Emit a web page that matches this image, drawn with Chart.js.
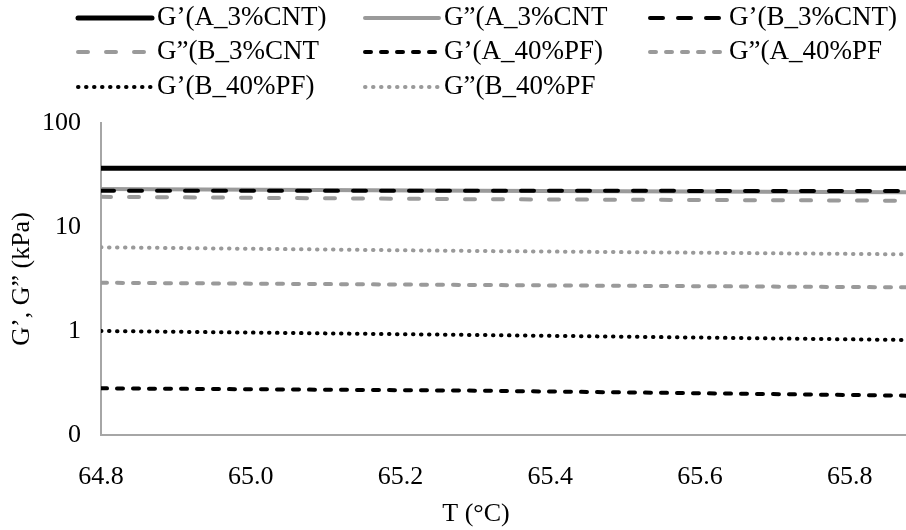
<!DOCTYPE html>
<html>
<head>
<meta charset="utf-8">
<script src="https://cdn.jsdelivr.net/npm/chart.js@4.4.1/dist/chart.umd.min.js"></script>
<style>
  body { margin: 0; background: #fff; }
</style>
</head>
<body>
<canvas id="modulusChart" width="906" height="530"></canvas>
<script>
// Температура (°C) і модулі G', G'' (kPa)
const temps = [64.8, 65.3, 65.875];
const gStorA3CNT = [36.7, 36.7, 36.7];
const gLossA3CNT = [23.2, 22.3, 21.6];
const gStorB3CNT = [22.3, 22.3, 22.2];
const gLossB3CNT = [19.5, 18.5, 17.9];
const gStorA40PF = [0.281, 0.267, 0.239];
const gLossA40PF = [2.91, 2.77, 2.63];
const gStorB40PF = [1.00, 0.916, 0.82];
const gLossB40PF = [6.38, 5.88, 5.46];

const xTicks = [64.8, 65.0, 65.2, 65.4, 65.6, 65.8];
const yTicks = [0.1, 1, 10, 100];
const yTickLabels = ['0', '1', '10', '100'];

const BLACK = '#000000';
const GREY = '#9a9a9a';
const FONT = 'Liberation Serif';

function pts(values) {
  return temps.map((t, i) => ({ x: t, y: values[i] }));
}

function line(label, values, color, dash, extra) {
  return Object.assign({
    label: label,
    data: pts(values),
    borderColor: color,
    backgroundColor: color,
    borderWidth: 4,
    borderDash: dash,
    borderCapStyle: 'round',
    pointRadius: 0,
    fill: false,
    tension: 0
  }, extra || {});
}

// Легенда у три колонки, як на оригіналі
const gridLegend = {
  id: 'gridLegend',
  afterDraw(chart) {
    const ctx = chart.ctx;
    const cols = [78, 365, 650];
    const rows = [18, 52, 87];
    ctx.save();
    ctx.font = `27px "${FONT}"`;
    ctx.textBaseline = 'middle';
    chart.data.datasets.forEach((ds, i) => {
      const x = cols[i % 3];
      const y = rows[Math.floor(i / 3)];
      ctx.beginPath();
      ctx.setLineDash(ds.borderDash);
      ctx.lineCap = ds.borderCapStyle;
      ctx.lineWidth = ds.borderWidth;
      ctx.strokeStyle = ds.borderColor;
      ctx.moveTo(x, y);
      ctx.lineTo(x + 74, y);
      ctx.stroke();
      ctx.setLineDash([]);
      ctx.fillStyle = '#000';
      ctx.fillText(ds.label, x + 79, y);
    });
    // підпис осі X
    ctx.font = `26px "${FONT}"`;
    ctx.textAlign = 'center';
    ctx.fillText('T (°C)', 476, 514);
    ctx.restore();
  }
};

new Chart(document.getElementById('modulusChart'), {
  type: 'line',
  data: {
    datasets: [
      line('G’(A_3%CNT)', gStorA3CNT, BLACK, [], { borderWidth: 5 }),
      line('G”(A_3%CNT', gLossA3CNT, GREY, [], { order: 2 }),
      line('G’(B_3%CNT)', gStorB3CNT, BLACK, [13, 15]),
      line('G”(B_3%CNT', gLossB3CNT, GREY, [10, 18]),
      line('G’(A_40%PF)', gStorA40PF, BLACK, [6, 10]),
      line('G”(A_40%PF', gLossA40PF, GREY, [6, 10]),
      line('G’(B_40%PF)', gStorB40PF, BLACK, [0.5, 7.5]),
      line('G”(B_40%PF', gLossB40PF, GREY, [0.5, 7.5])
    ]
  },
  options: {
    responsive: false,
    animation: false,
    layout: {
      padding: { top: 123, right: 0, left: 0, bottom: 0 }
    },
    scales: {
      x: {
        type: 'linear',
        min: 64.8,
        max: 65.875,
        afterBuildTicks: scale => {
          scale.ticks = xTicks.map(v => ({ value: v }));
        },
        afterFit: scale => { scale.height = 95; },
        ticks: {
          padding: 27,
          color: '#000',
          font: { family: FONT, size: 26 },
          callback: v => Number(v).toFixed(1)
        },
        grid: { display: false, drawTicks: false },
        border: { display: true, color: '#a6a6a6', width: 2 }
      },
      y: {
        type: 'logarithmic',
        min: 0.1,
        max: 100,
        afterBuildTicks: scale => {
          scale.ticks = yTicks.map(v => ({ value: v }));
        },
        afterFit: scale => { scale.width = 101; },
        ticks: {
          padding: 20,
          color: '#000',
          font: { family: FONT, size: 26 },
          callback: (v, i) => yTickLabels[i]
        },
        grid: { display: false, drawTicks: false },
        border: { display: true, color: '#a6a6a6', width: 2 },
        title: {
          display: true,
          text: 'G’, G” (kPa)',
          color: '#000',
          padding: { top: 7, bottom: 0 },
          font: { family: FONT, size: 26 }
        }
      }
    },
    plugins: {
      legend: { display: false },
      tooltip: { enabled: false }
    }
  },
  plugins: [gridLegend]
});
</script>
</body>
</html>
